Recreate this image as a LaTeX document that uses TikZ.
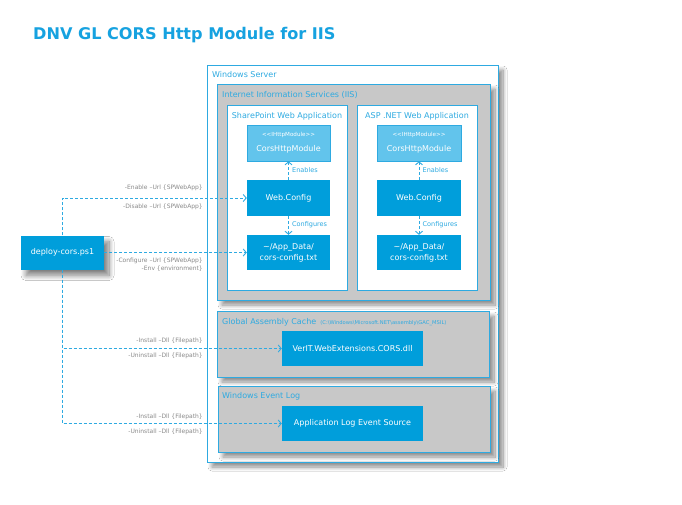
\documentclass[tikz,border=0pt]{standalone}
\usepackage{fontspec}
\setmainfont{DejaVu Sans}
\usetikzlibrary{shadows.blur,arrows.meta}
\definecolor{titleblue}{HTML}{16A2E0}
\definecolor{darkfill}{HTML}{009EDB}
\definecolor{lineblue}{HTML}{2EAAE1}
\definecolor{lightfill}{HTML}{62C4EC}
\definecolor{grayfill}{HTML}{C8C8C8}
\definecolor{labelgray}{HTML}{8A8A8A}
\tikzset{
  container/.style={draw=lineblue, line width=0.8pt, fill=grayfill, inner sep=0pt,
    blur shadow={shadow xshift=5pt, shadow yshift=-5pt, shadow blur radius=4pt, shadow blur steps=12, shadow opacity=45}},
  appbox/.style={draw=lineblue, line width=0.8pt, fill=white, inner sep=0pt},
  darkbox/.style={fill=darkfill, text=white, inner sep=0pt, align=center,
    font=\fontsize{8}{10}\selectfont},
  lightbox/.style={draw=lineblue, line width=0.6pt, fill=lightfill, text=white, inner sep=0pt, align=center},
  boxlabel/.style={anchor=west, text=lineblue, inner sep=0pt, font=\fontsize{8}{10}\selectfont},
  cmdlabel/.style={anchor=east, text=labelgray, inner sep=0pt, font=\fontsize{6}{7}\selectfont},
  relabel/.style={anchor=west, text=lineblue, inner sep=0pt, font=\fontsize{6.5}{8}\selectfont},
  dashline/.style={draw=lineblue, line width=0.9pt, dash pattern=on 3pt off 2pt},
  arrowtip/.style={-{Straight Barb[length=3pt,width=7pt]}},
}
\begin{document}
\begin{tikzpicture}[x=1pt,y=-1pt]
\useasboundingbox (0,0) rectangle (682,504);
\fill[white] (0,0) rectangle (682,504);

% title
\node[anchor=west, inner sep=0pt, text=titleblue, font=\fontsize{16.1}{19}\selectfont\bfseries] (title) at (33,35) {DNV GL CORS Http Module for IIS};

% Windows Server
\node[container, fill=white, minimum width=291, minimum height=397] (ws) at (352.5,263.5) {};
\node[boxlabel] (wsl) at (212,75) {Windows Server};

% IIS
\node[container, minimum width=273, minimum height=216] (iis) at (353.5,192) {};
\node[boxlabel] (iisl) at (222,95) {Internet Information Services (IIS)};

% web applications
\node[appbox, minimum width=120, minimum height=185] (sp) at (287,197.5) {};
\node[anchor=center, text=lineblue, inner sep=0pt, font=\fontsize{8}{10}\selectfont] (spl) at (287,116) {SharePoint Web Application};
\node[appbox, minimum width=120, minimum height=185] (asp) at (417,197.5) {};
\node[anchor=center, text=lineblue, inner sep=0pt, font=\fontsize{8}{10}\selectfont] (aspl) at (417,116) {ASP .NET Web Application};

% SharePoint content
\node[lightbox, minimum width=83, minimum height=36] (cors1) at (288.5,143)
  {{\fontsize{5.6}{7}\selectfont <{}<IHttpModule>{}>}\\[3pt]{\fontsize{8}{10}\selectfont CorsHttpModule}};
\node[darkbox, minimum width=83, minimum height=36] (wc1) at (288.5,198) {Web.Config};
\node[darkbox, minimum width=83, minimum height=35] (cfg1) at (288.5,252.5) {\textasciitilde/App\_Data/\\[1pt]cors-config.txt};

% ASP content
\node[lightbox, minimum width=84, minimum height=36] (cors2) at (419,143)
  {{\fontsize{5.6}{7}\selectfont <{}<IHttpModule>{}>}\\[3pt]{\fontsize{8}{10}\selectfont CorsHttpModule}};
\node[darkbox, minimum width=84, minimum height=36] (wc2) at (419,198) {Web.Config};
\node[darkbox, minimum width=84, minimum height=35] (cfg2) at (419,252.5) {\textasciitilde/App\_Data/\\[1pt]cors-config.txt};

% internal relations
\draw[dashline, arrowtip] (wc1.north) -- (cors1.south);
\node[relabel] (en1) at (292,170) {Enables};
\draw[dashline, arrowtip] (wc1.south) -- (cfg1.north);
\node[relabel] (co1) at (292,225) {Configures};
\draw[dashline, arrowtip] (wc2.north) -- (cors2.south);
\node[relabel] (en2) at (422.5,170) {Enables};
\draw[dashline, arrowtip] (wc2.south) -- (cfg2.north);
\node[relabel] (co2) at (422.5,225) {Configures};

% GAC
\node[container, minimum width=272, minimum height=66] (gac) at (353,344) {};
\node[boxlabel] (gacl) at (222,322) {Global Assembly Cache {\fontsize{5.2}{6}\selectfont\ (C:\textbackslash Windows\textbackslash Microsoft.NET\textbackslash assembly\textbackslash GAC\_MSIL)}};
\node[darkbox, minimum width=141, minimum height=35] (dll) at (352.5,348.5) {VerIT.WebExtensions.CORS.dll};

% Event log
\node[container, minimum width=272, minimum height=66] (evl) at (354,419) {};
\node[boxlabel] (evll) at (222,396) {Windows Event Log};
\node[darkbox, minimum width=141, minimum height=35] (app) at (352.5,423.5) {Application Log Event Source};

% deploy script
\node[darkbox, minimum width=83, minimum height=34,
  blur shadow={shadow xshift=5pt, shadow yshift=-6pt, shadow blur radius=5pt, shadow blur steps=12, shadow opacity=50}] (dep) at (62.5,252.5) {deploy-cors.ps1};

% connectors from deploy script
\draw[dashline, arrowtip] (dep.north) |- (wc1.west);
\draw[dashline, arrowtip] (dep.east) -- (cfg1.west);
\draw[dashline, arrowtip] (dep.south) |- (dll.west);
\draw[dashline, arrowtip] (dep.south) |- (app.west);

% command labels
\node[cmdlabel] (c1) at (203,188) {-Enable –Url \{SPWebApp\}};
\node[cmdlabel] (c2) at (203,207) {-Disable –Url \{SPWebApp\}};
\node[cmdlabel] (c3) at (203,261) {-Configure –Url \{SPWebApp\}};
\node[cmdlabel] (c4) at (203,269) {-Env \{environment\}};
\node[cmdlabel] (c5) at (203,341) {-Install –Dll \{Filepath\}};
\node[cmdlabel] (c6) at (203,356) {-Uninstall –Dll \{Filepath\}};
\node[cmdlabel] (c7) at (203,417) {-Install –Dll \{Filepath\}};
\node[cmdlabel] (c8) at (203,432) {-Uninstall –Dll \{Filepath\}};
\end{tikzpicture}
\end{document}
